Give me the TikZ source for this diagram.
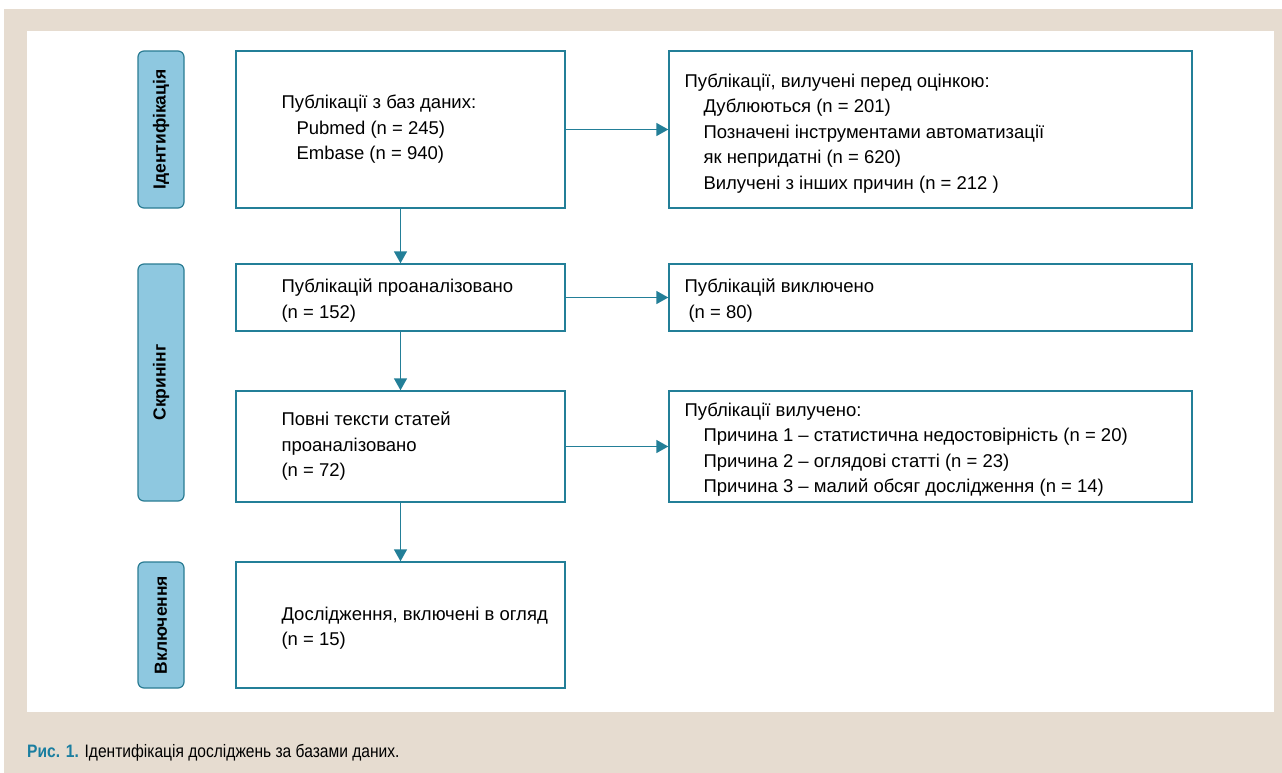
\documentclass[tikz,border=0pt]{standalone}
\usepackage{fontspec}
\setmainfont{Liberation Sans}
\newfontfamily\capfont[FakeStretch=0.865]{Liberation Sans}
\usepackage{xcolor}
\usetikzlibrary{arrows.meta}
\definecolor{flowteal}{HTML}{237F98}
\definecolor{stagefill}{HTML}{8EC8E0}
\definecolor{stagerim}{HTML}{2A7C93}
\definecolor{pagebeige}{HTML}{E6DCD0}
\definecolor{capteal}{HTML}{1A7EA0}

\begin{document}
\begin{tikzpicture}[x=1pt, y=-1pt,
    box/.style={draw=flowteal, line width=1.4pt, minimum width=#1, inner sep=0pt},
    stage/.style={draw=stagerim, fill=stagefill, line width=1.2pt, rounded corners=6pt, rotate=90,
        minimum height=46pt, inner sep=0pt, font=\fontsize{17.5}{19}\selectfont\bfseries},
    txt/.style={anchor=west, align=left, inner sep=0pt, font=\fontsize{18.5}{25.5}\selectfont},
    arr/.style={-{Triangle[length=12pt, width=13pt]}, draw=flowteal, line width=1.5pt}
]
\useasboundingbox (0,0) rectangle (1282,773);
\fill[pagebeige] (4,9) rectangle (1282,773);
\fill[white] (27,31) rectangle (1274,712);

% stages
\node[stage, minimum width=157pt] (ident) at (161,129.5) {Ідентифікація};
\node[stage, minimum width=237pt] (screen) at (161,382.5) {Скринінг};
\node[stage, minimum width=126pt] (incl) at (161,625) {Включення};

% main column
\node[box=329pt, minimum height=157pt] (found) at (400.5,129.5) {};
\node[box=329pt, minimum height=67pt] (screened) at (400.5,297.5) {};
\node[box=329pt, minimum height=111pt] (fulltext) at (400.5,446.5) {};
\node[box=329pt, minimum height=126pt] (included) at (400.5,625) {};

% side column
\node[box=523pt, minimum height=157pt] (removed) at (930.5,129.5) {};
\node[box=523pt, minimum height=67pt] (excluded) at (930.5,297.5) {};
\node[box=523pt, minimum height=111pt] (dropped) at (930.5,446.5) {};

% texts
\node[txt] (found-t) at ([xshift=46pt]found.west) {Публікації з баз даних:\\
    \hspace*{15pt}Pubmed (n = 245)\\ \hspace*{15pt}Embase (n = 940)};
\node[txt] (screened-t) at ([xshift=46pt, yshift=-3pt]screened.west) {Публікацій проаналізовано\\(n = 152)};
\node[txt] (fulltext-t) at ([xshift=46pt]fulltext.west) {Повні тексти статей\\проаналізовано\\(n = 72)};
\node[txt] (included-t) at ([xshift=46pt, yshift=-3pt]included.west) {Дослідження, включені в огляд\\(n = 15)};
\node[txt] (removed-t) at ([xshift=16pt, yshift=-4pt]removed.west) {Публікації, вилучені перед оцінкою:\\
    \hspace*{19pt}Дублюються (n = 201)\\
    \hspace*{19pt}Позначені інструментами автоматизації\\
    \hspace*{19pt}як непридатні (n = 620)\\
    \hspace*{19pt}Вилучені з інших причин (n = 212 )};
\node[txt] (excluded-t) at ([xshift=16pt, yshift=-3pt]excluded.west) {Публікацій виключено\\\hspace*{4pt}(n = 80)};
\node[txt] (dropped-t) at ([xshift=16pt, yshift=-3pt]dropped.west) {Публікації вилучено:\\
    \hspace*{19pt}Причина 1 – статистична недостовірність (n = 20)\\
    \hspace*{19pt}Причина 2 – оглядові статті (n = 23)\\
    \hspace*{19pt}Причина 3 – малий обсяг дослідження (n = 14)};

% arrows
\draw[arr] (found.south) -- (screened.north);
\draw[arr] (screened.south) -- (fulltext.north);
\draw[arr] (fulltext.south) -- (included.north);
\draw[arr] (found.east) -- (removed.west);
\draw[arr] (screened.east) -- (excluded.west);
\draw[arr] (fulltext.east) -- (dropped.west);

% caption
\node[anchor=base west, inner sep=0pt, font=\capfont\fontsize{18}{20}\selectfont] (caption) at (27,757)
    {{\color{capteal}\bfseries Рис. 1.} Ідентифікація досліджень за базами даних.};
\end{tikzpicture}
\end{document}
